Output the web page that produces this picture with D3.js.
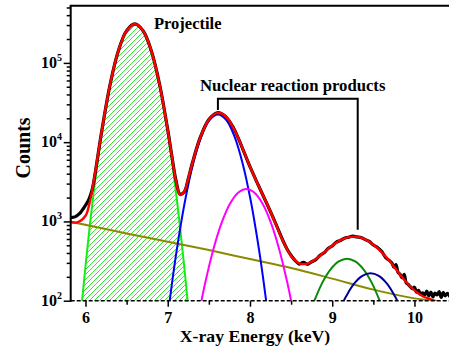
<!DOCTYPE html>
<html>
<head>
<meta charset="utf-8">
<script src="https://cdn.jsdelivr.net/npm/d3@7"></script>
<style>
  body { margin: 0; background: #fff; }
  text { font-family: "Liberation Serif", "Times New Roman", serif; font-weight: bold; fill: #000; }
</style>
</head>
<body>
<div id="chart"></div>
<script>
// spectrum data, [energy keV, counts]
const measured = [
  [5.8, 1100], [5.85, 1130], [5.88, 1150], [5.9, 1190], [5.93, 1260], [5.95, 1340], [5.98, 1480],
  [6.0, 1600], [6.03, 1800], [6.05, 2000], [6.08, 2500], [6.1, 3150], [6.15, 6700], [6.2, 14300],
  [6.3, 54000], [6.4, 142000], [6.5, 255000], [6.6, 310000], [6.7, 254000], [6.8, 142500],
  [6.9, 54200], [7.0, 14300], [7.05, 6700], [7.1, 3300], [7.15, 2200], [7.2, 2350], [7.25, 3450],
  [7.3, 5500], [7.4, 11800], [7.5, 19300], [7.6, 23500], [7.7, 21300], [7.8, 15100], [7.9, 8800],
  [8.0, 4900], [8.1, 2880], [8.2, 1720], [8.3, 1010], [8.4, 575], [8.45, 450], [8.5, 372],
  [8.55, 320], [8.6, 290], [8.65, 305], [8.7, 288], [8.75, 310], [8.8, 330], [8.85, 372],
  [8.9, 402], [8.95, 455], [9.0, 490], [9.05, 548], [9.1, 575], [9.15, 615], [9.2, 632],
  [9.25, 652], [9.3, 637], [9.35, 628], [9.4, 590], [9.45, 560], [9.5, 505], [9.55, 470],
  [9.6, 420], [9.65, 350], [9.7, 318], [9.725, 300], [9.75, 265], [9.775, 285], [9.8, 228],
  [9.825, 215], [9.85, 195], [9.875, 215], [9.9, 168], [9.925, 160], [9.95, 150], [9.975, 142],
  [10.0, 148], [10.025, 128], [10.05, 135], [10.075, 120], [10.1, 126], [10.125, 118],
  [10.15, 132], [10.175, 115], [10.2, 128], [10.225, 112], [10.25, 125], [10.275, 118],
  [10.3, 130], [10.325, 110], [10.35, 127], [10.375, 115], [10.4, 124], [10.43, 112]
];

const totalFit = [
  [5.8, 1001], [5.9, 973], [6.0, 1179], [6.05, 1724], [6.1, 3205], [6.15, 6770], [6.2, 14400],
  [6.3, 54100], [6.4, 142300], [6.5, 254800], [6.6, 309700], [6.7, 254700], [6.8, 142200],
  [6.9, 53920], [7.0, 14200], [7.05, 6632], [7.1, 3246], [7.15, 2159], [7.2, 2374], [7.25, 3499],
  [7.3, 5465], [7.4, 11735], [7.5, 19200], [7.6, 23400], [7.7, 21364], [7.8, 15039], [7.9, 8810],
  [8.0, 4896], [8.1, 2873], [8.2, 1729], [8.3, 999], [8.4, 569], [8.5, 367], [8.6, 296],
  [8.7, 294], [8.8, 335], [8.9, 407], [9.0, 497], [9.1, 581], [9.2, 635], [9.3, 640], [9.4, 595],
  [9.5, 511], [9.6, 411], [9.7, 314], [9.8, 230], [9.9, 171], [10.0, 135], [10.1, 114],
  [10.2, 104], [10.3, 95], [10.4, 89], [10.45, 86]
];

const projectile = [
  [5.9, 22], [5.95, 81], [6.0, 274], [6.05, 841], [6.1, 2344], [6.2, 13580], [6.3, 53330],
  [6.4, 141600], [6.5, 254100], [6.6, 309000], [6.7, 254100], [6.8, 141600], [6.9, 53330],
  [7.0, 13580], [7.1, 2344], [7.15, 841], [7.2, 274], [7.25, 81], [7.3, 22]
];

const peakA = [
  [6.96, 29], [7.01, 78], [7.06, 192], [7.11, 439], [7.21, 1807], [7.31, 5430], [7.41, 11940],
  [7.51, 19140], [7.61, 22400], [7.71, 19140], [7.81, 11940], [7.91, 5430], [8.01, 1807],
  [8.11, 439], [8.16, 192], [8.21, 78], [8.26, 29]
];

const peakB = [
  [7.355, 50], [7.405, 94], [7.455, 167], [7.555, 447], [7.655, 960], [7.755, 1660],
  [7.855, 2304], [7.955, 2570], [8.055, 2304], [8.155, 1660], [8.255, 960], [8.355, 447],
  [8.455, 167], [8.505, 94], [8.555, 50]
];

const peakC = [
  [8.73, 71], [8.78, 98], [8.88, 169], [8.98, 249], [9.08, 313], [9.18, 338], [9.28, 313],
  [9.38, 249], [9.48, 169], [9.58, 98], [9.63, 71]
];

const peakD = [
  [9.066, 66], [9.116, 88], [9.166, 112], [9.266, 164], [9.366, 206], [9.466, 222],
  [9.566, 206], [9.666, 164], [9.766, 112], [9.816, 88], [9.866, 66]
];

const background = [
  [5.8, 1000], [6.5, 705], [7.0, 555], [7.5, 435], [8.0, 335], [8.5, 258], [9.0, 190],
  [9.5, 138], [10.0, 107], [10.2, 100], [10.45, 86]
];

// bracket over the reaction product peaks: [energy, counts at foot]
const bracketFeet = [[7.61, 25400], [9.31, 785]];
const bracketTop = 35400;

const xTicks = [6, 7, 8, 9, 10];
const xMinor = [6.5, 7.5, 8.5, 9.5];
const yTicks = [100, 1000, 10000, 100000];
const yExponents = ["2", "3", "4", "5"];
const yMinor = [200, 300, 400, 500, 600, 700, 800, 900,
  2000, 3000, 4000, 5000, 6000, 7000, 8000, 9000,
  20000, 30000, 40000, 50000, 60000, 70000, 80000, 90000,
  200000, 300000, 400000, 500000];

const W = 449, H = 347;

const svg = d3.select("#chart").append("svg")
  .attr("width", W)
  .attr("height", H);

const x = d3.scaleLinear().domain([5.82, 10.42]).range([70.7, 449]);
const y = d3.scaleLog().domain([100, 5.25e5]).range([300.7, 5.8]);

const defs = svg.append("defs");
defs.append("clipPath").attr("id", "plot-clip")
  .append("rect")
  .attr("x", x.range()[0]).attr("y", y.range()[1])
  .attr("width", x.range()[1] - x.range()[0])
  .attr("height", y.range()[0] - y.range()[1]);

// diagonal hatch for the projectile peak
const hatch = defs.append("pattern")
  .attr("id", "hatch")
  .attr("patternUnits", "userSpaceOnUse")
  .attr("width", 5).attr("height", 5);
hatch.append("path")
  .attr("d", "M-1,1 l2,-2 M0,5 l5,-5 M4,6 l2,-2")
  .attr("stroke", "#33e633")
  .attr("stroke-width", 1);

const curve = d3.curveCatmullRom.alpha(0.5);
const line = d3.line().x(d => x(d[0])).y(d => y(d[1])).curve(curve);
const area = d3.area().x(d => x(d[0])).y0(y(100) + 4).y1(d => y(d[1])).curve(curve);

const plot = svg.append("g").attr("clip-path", "url(#plot-clip)");

plot.append("path")
  .attr("d", area(projectile))
  .attr("fill", "url(#hatch)");

const components = [
  { data: projectile, color: "#11ee11" },
  { data: background, color: "#8a8a00" },
  { data: peakA, color: "#0000ff" },
  { data: peakB, color: "#ff00ff" },
  { data: peakC, color: "#0a8a0a" },
  { data: peakD, color: "#000099" }
];

plot.selectAll(".component")
  .data(components)
  .enter()
  .append("path")
  .attr("class", "component")
  .attr("d", d => line(d.data))
  .attr("fill", "none")
  .attr("stroke", d => d.color)
  .attr("stroke-width", 2);

plot.append("path")
  .attr("d", line(measured))
  .attr("fill", "none")
  .attr("stroke", "#000")
  .attr("stroke-width", 3.2)
  .attr("stroke-linejoin", "round");

plot.append("path")
  .attr("d", line(totalFit))
  .attr("fill", "none")
  .attr("stroke", "#ff0000")
  .attr("stroke-width", 2.4);

// axes
const xAxis = svg.append("g")
  .attr("transform", `translate(0, ${y(100)})`)
  .call(d3.axisBottom(x).tickValues(xTicks).tickSize(6).tickFormat(d3.format("d")));
xAxis.append("g")
  .call(d3.axisBottom(x).tickValues(xMinor).tickSize(4).tickFormat(""));
xAxis.selectAll(".domain").remove();
xAxis.selectAll("line").attr("stroke", "#000").attr("stroke-width", 1.5);
xAxis.selectAll("text")
  .attr("y", 11)
  .attr("dy", "0.71em")
  .style("font-size", "16px");

svg.append("line")
  .attr("x1", x.range()[0]).attr("x2", x.range()[1])
  .attr("y1", y(100)).attr("y2", y(100))
  .attr("stroke", "#000")
  .attr("stroke-width", 1.6)
  .attr("stroke-dasharray", "4,2");

const yAxis = svg.append("g")
  .attr("transform", `translate(${x.range()[0]}, 0)`)
  .call(d3.axisLeft(y).tickValues(yTicks).tickSize(7).tickFormat(""));
yAxis.append("g")
  .call(d3.axisLeft(y).tickValues(yMinor).tickSize(4).tickFormat(""));
yAxis.selectAll(".domain").remove();
yAxis.selectAll("line").attr("stroke", "#000").attr("stroke-width", 1.5);

const yLabels = svg.append("g").selectAll("text")
  .data(yTicks)
  .enter()
  .append("text")
  .attr("x", 62)
  .attr("y", d => y(d) + 5)
  .style("text-anchor", "end")
  .style("font-size", "16px");
yLabels.append("tspan").text("10");
yLabels.append("tspan")
  .attr("dy", -7)
  .style("font-size", "10px")
  .text((d, i) => yExponents[i]);

// frame: left axis line and top line
svg.append("line")
  .attr("x1", x.range()[0]).attr("x2", x.range()[0])
  .attr("y1", y.range()[1]).attr("y2", y(100) + 1)
  .attr("stroke", "#000").attr("stroke-width", 2);
svg.append("line")
  .attr("x1", x.range()[0] - 1).attr("x2", W)
  .attr("y1", y.range()[1]).attr("y2", y.range()[1])
  .attr("stroke", "#000").attr("stroke-width", 2);

// axis titles
svg.append("text")
  .attr("transform", "translate(29.5, 148) rotate(-90)")
  .style("text-anchor", "middle")
  .style("font-size", "20px")
  .text("Counts");

svg.append("text")
  .attr("x", 255)
  .attr("y", 342)
  .style("text-anchor", "middle")
  .style("font-size", "17.7px")
  .text("X-ray Energy (keV)");

// annotations
svg.append("text")
  .attr("x", 154)
  .attr("y", 28.5)
  .style("font-size", "16.5px")
  .text("Projectile");

svg.append("text")
  .attr("x", 200)
  .attr("y", 90.5)
  .style("font-size", "16.7px")
  .text("Nuclear reaction products");

const bracketPath = d3.path();
bracketPath.moveTo(x(bracketFeet[0][0]), y(bracketFeet[0][1]));
bracketPath.lineTo(x(bracketFeet[0][0]), y(bracketTop));
bracketPath.lineTo(x(bracketFeet[1][0]), y(bracketTop));
bracketPath.lineTo(x(bracketFeet[1][0]), y(bracketFeet[1][1]));
svg.append("path")
  .attr("d", bracketPath.toString())
  .attr("fill", "none")
  .attr("stroke", "#000")
  .attr("stroke-width", 2);
</script>
</body>
</html>
